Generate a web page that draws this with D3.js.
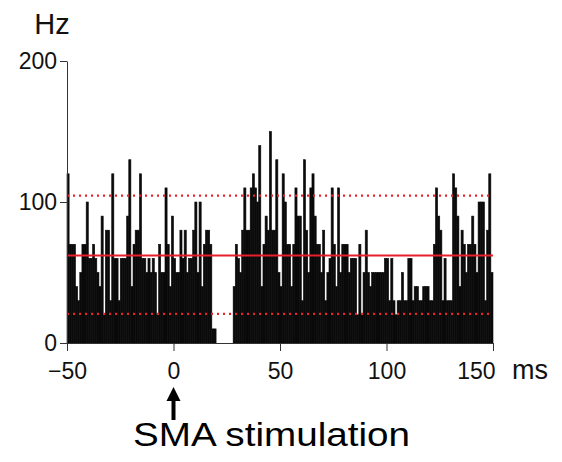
<!DOCTYPE html>
<html lang="en">
<head>
    <meta charset="UTF-8">
    <script src="https://d3js.org/d3.v7.min.js"></script>
    <title>PSTH SMA stimulation</title>
    <style>
        body{
            margin: 0;
            background: #fff;
        }
        svg{
            font-family: "Liberation Sans", Arial, sans-serif;
        }
    </style>
</head>
<body>
<svg width="562" height="462"></svg>
<script>
// bins of 1 ms, from -50 to 149 ms
let binStart = d3.range(-50, 150)
// firing rate (Hz) for each bin
let rate = [
    120,70,70,70,40,30,50,70,70,100,
    60,60,70,60,50,40,90,20,80,80,
    30,120,60,60,30,60,60,60,90,130,
    40,70,80,80,120,60,60,50,60,50,
    60,50,20,70,50,50,110,70,40,90,
    60,50,50,80,60,80,50,60,60,80,
    100,50,100,40,70,80,80,70,10,10,
    0,0,0,0,0,0,0,0,40,70,
    60,50,80,110,80,80,110,120,110,100,
    140,40,70,90,80,150,80,80,130,50,
    40,120,100,70,70,40,70,110,90,90,
    30,130,80,50,110,120,90,70,70,50,
    80,30,50,60,110,70,40,110,50,70,
    70,70,50,60,60,60,20,70,20,50,
    80,50,40,50,50,50,50,50,50,60,
    60,30,60,30,20,30,30,50,30,30,
    60,60,30,40,40,30,30,40,40,40,
    30,30,70,110,90,80,30,60,30,30,
    30,120,110,90,40,80,70,50,70,70,
    90,70,50,100,100,100,30,80,120,50
]
let xTicks = [-50, 0, 50, 100, 150]
let yTicks = [0, 100, 200]
let meanRate = 62
let upperLimit = 104.5
let lowerLimit = 20.6

let svg = d3.select("svg")
let x = d3.scaleLinear().domain([-50, 150]).range([67, 493])
let y = d3.scaleLinear().domain([0, 200]).range([343, 61])

// bars
svg.append("g").selectAll("rect")
    .data(binStart)
    .join("rect")
    .attr("x", d => x(d))
    .attr("width", d => x(d + 1) - x(d))
    .attr("y", (d, i) => y(rate[i]))
    .attr("height", (d, i) => y(0) - y(rate[i]))
    .attr("fill", "#0a0a0a")
    .attr("stroke", "#0a0a0a")
    .attr("stroke-width", 0.6)

// mean and limits
let red = "#e8202a"
svg.append("line")
    .attr("x1", x(-50)).attr("x2", x(150))
    .attr("y1", y(meanRate)).attr("y2", y(meanRate))
    .attr("stroke", red).attr("stroke-width", 2)
svg.selectAll(".limit")
    .data([upperLimit, lowerLimit])
    .join("line")
    .attr("class", "limit")
    .attr("x1", x(-50)).attr("x2", x(150))
    .attr("y1", d => y(d)).attr("y2", d => y(d))
    .attr("stroke", red).attr("stroke-width", 2.2)
    .attr("stroke-dasharray", "2,4")

// axes
let xAxis = svg.append("g")
    .attr("transform", "translate(0," + y(0) + ")")
    .call(d3.axisBottom(x).tickValues(xTicks).tickSize(8).tickSizeOuter(0).tickPadding(12))
let yAxis = svg.append("g")
    .attr("transform", "translate(" + x(-50) + ",0)")
    .call(d3.axisLeft(y).tickValues(yTicks).tickSize(7).tickSizeOuter(0).tickPadding(3))
svg.selectAll(".domain, .tick line").attr("stroke", "#333").attr("stroke-width", 1)
svg.selectAll(".tick text")
    .attr("font-family", "'Liberation Sans', Arial, sans-serif")
    .attr("font-size", 23)
    .attr("fill", "#111")
// last x label sits left of its tick, leaving room for the unit
xAxis.selectAll(".tick text").filter(d => d === 150)
    .attr("text-anchor", "end").attr("x", 2)

svg.append("text")
    .attr("x", 52).attr("y", 34)
    .attr("text-anchor", "middle")
    .attr("font-size", 29).attr("fill", "#111")
    .text("Hz")
svg.append("text")
    .attr("x", 512).attr("y", 379)
    .attr("font-size", 27).attr("fill", "#111")
    .text("ms")

// stimulation arrow at 0 ms
svg.append("line")
    .attr("x1", x(0)).attr("x2", x(0))
    .attr("y1", 398).attr("y2", 420)
    .attr("stroke", "#000").attr("stroke-width", 4)
svg.append("path")
    .attr("d", "M" + x(0) + ",387 l-7,14 l14,0 z")
    .attr("fill", "#000")
svg.append("text")
    .attr("x", 133).attr("y", 446)
    .attr("font-size", 33).attr("fill", "#000")
    .attr("textLength", 277).attr("lengthAdjust", "spacingAndGlyphs")
    .text("SMA stimulation")
</script>
</body>
</html>
